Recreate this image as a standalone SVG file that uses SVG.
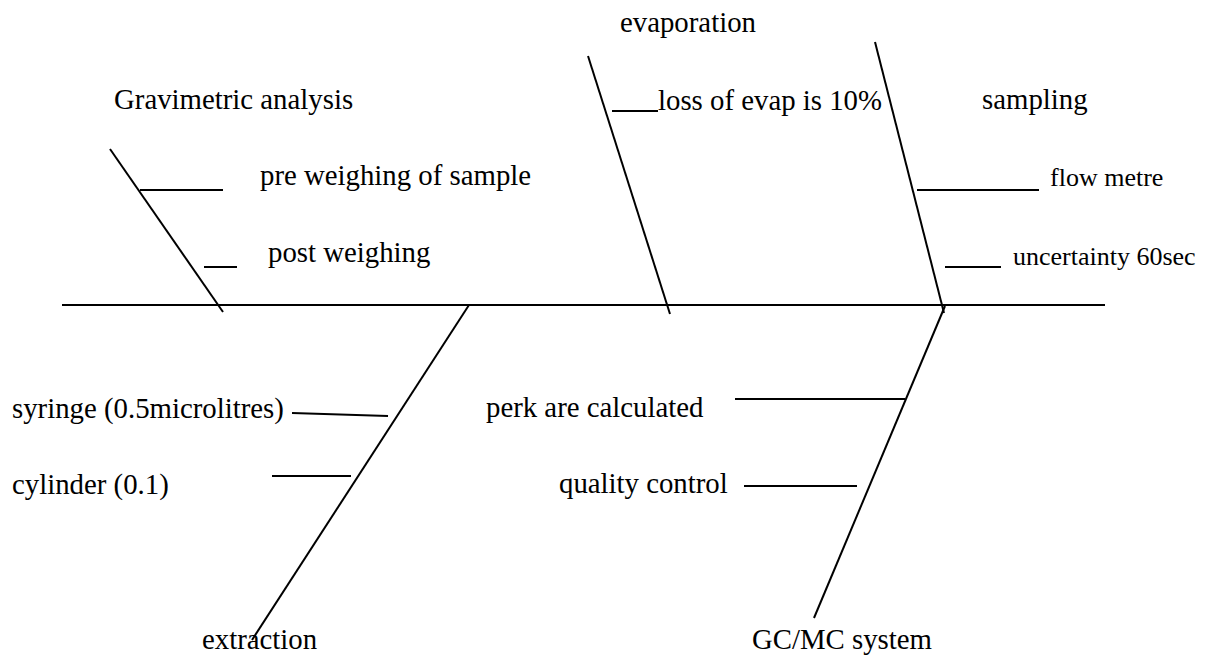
<svg xmlns="http://www.w3.org/2000/svg" width="1206" height="658" viewBox="0 0 1206 658">
<style>
  text { font-family: 'Liberation Serif', 'Times New Roman', serif; font-size: 28.8px; fill: #000; }
  text.s { font-size: 26px; }
  .ln { stroke: #000; stroke-width: 2; fill: none; }
</style>
<rect width="1206" height="658" fill="#fff"/>
<g id="connectors">
  <line class="ln" x1="62" y1="305" x2="1105" y2="305"/>
  <line class="ln" x1="110" y1="149" x2="223" y2="312"/>
  <line class="ln" x1="140" y1="190" x2="223" y2="190"/>
  <line class="ln" x1="204" y1="267" x2="237" y2="267"/>
  <line class="ln" x1="588" y1="56" x2="670" y2="314"/>
  <line class="ln" x1="612" y1="111" x2="658" y2="111"/>
  <line class="ln" x1="875" y1="42" x2="944" y2="313"/>
  <line class="ln" x1="917" y1="190" x2="1039" y2="190"/>
  <line class="ln" x1="945" y1="267" x2="1001" y2="267"/>
  <line class="ln" x1="469" y1="305" x2="252" y2="640"/>
  <line class="ln" x1="292" y1="413" x2="388" y2="416"/>
  <line class="ln" x1="272" y1="476" x2="351" y2="476"/>
  <line class="ln" x1="945" y1="306" x2="814" y2="618"/>
  <line class="ln" x1="735" y1="399" x2="905" y2="399"/>
  <line class="ln" x1="744" y1="486" x2="857" y2="486"/>
</g>
<g id="gravimetric">
  <text x="114" y="109">Gravimetric analysis</text>
  <text x="260" y="185">pre weighing of sample</text>
  <text x="268" y="262">post weighing</text>
</g>
<g id="evaporation">
  <text x="620" y="32">evaporation</text>
  <text x="658" y="110">loss of evap is 10%</text>
</g>
<g id="sampling">
  <text x="982" y="109">sampling</text>
  <text class="s" x="1050" y="186">flow metre</text>
  <text class="s" x="1013" y="265">uncertainty 60sec</text>
</g>
<g id="extraction">
  <text x="12" y="418">syringe (0.5microlitres)</text>
  <text x="12" y="494">cylinder (0.1)</text>
  <text x="202" y="649">extraction</text>
</g>
<g id="gcmc">
  <text x="486" y="417">perk are calculated</text>
  <text x="559" y="493">quality control</text>
  <text x="752" y="649">GC/MC system</text>
</g>
</svg>
